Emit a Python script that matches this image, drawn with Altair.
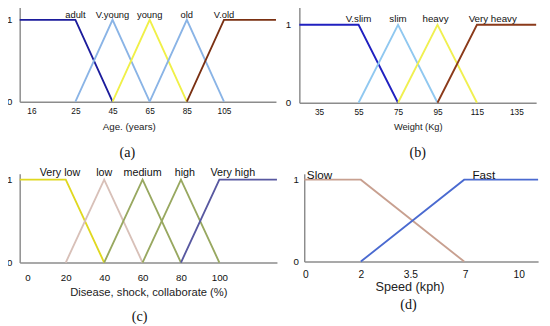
import altair as alt
import pandas as pd

# ---------- Panel (a): Age ----------
age_names = ["adult", "V.young", "young", "old", "V.old"]
age_colors = ["#1c1c9c", "#8ab4e6", "#f0f048", "#8ab4e6", "#7a3012"]
age_x = [[-5, 25, 45], [25, 45, 65], [45, 65, 85], [65, 85, 105], [85, 105, 133]]
age_y = [[1, 1, 0], [0, 1, 0], [0, 1, 0], [0, 1, 0], [0, 1, 1]]
age_label_x = [25, 45, 65, 85, 105]
age_tick_pos = [1.3, 25, 45, 65, 85, 105]
age_tick_text = ["16", "25", "45", "65", "85", "105"]

# ---------- Panel (b): Weight ----------
weight_names = ["V.slim", "slim", "heavy", "Very heavy"]
weight_colors = ["#2020c0", "#90c8f0", "#f0f050", "#8b3a1a"]
weight_x = [[25, 55, 75], [55, 75, 95], [75, 95, 115], [95, 115, 145]]
weight_y = [[1, 1, 0], [0, 1, 0], [0, 1, 0], [0, 1, 1]]
weight_label_x = [55, 75, 94, 123]
weight_tick_pos = [35, 55, 75, 95, 115, 135]
weight_tick_text = ["35", "55", "75", "95", "115", "135"]

# ---------- Panel (c): Disease, shock, collaborate ----------
dis_names = ["Very low", "low", "medium", "high", "Very high"]
dis_colors = ["#e0d820", "#d8c0b8", "#98a860", "#98a860", "#5858a0"]
dis_x = [[-4, 20, 40], [20, 40, 60], [40, 60, 80], [60, 80, 100], [80, 100, 130]]
dis_y = [[1, 1, 0], [0, 1, 0], [0, 1, 0], [0, 1, 0], [0, 1, 1]]
dis_label_x = [17, 40, 60, 82, 107]
dis_tick_pos = [0, 20, 40, 60, 80, 100]
dis_tick_text = ["0", "20", "40", "60", "80", "100"]

# ---------- Panel (d): Speed ----------
speed_names = ["Slow", "Fast"]
speed_colors = ["#c8a090", "#4a6ad0"]
speed_x = [[-0.74, 2, 7], [2, 7, 10.58]]
speed_y = [[1, 1, 0], [0, 1, 1]]
speed_label_x = [0.0, 7.95]
speed_tick_pos = [-0.69, 2, 4.4, 7.05, 9.64]
speed_tick_text = ["0", "2", "3.5", "7", "10"]


def panel(names, colors, xs, ys, label_x, tick_pos, tick_text, xdomain, ytop,
          width, height, xtitle, caption, caption_dx=0, caption_offset=6,
          title_x=None, label_dy=-5, ylabel_pad=8, label_size=11, tick_size=10,
          title_size=11.5, xlabel_pad=6, xtitle_pad=4):
    rows = []
    for n, xl, yl in zip(names, xs, ys):
        for i, (x, y) in enumerate(zip(xl, yl)):
            rows.append({"name": n, "i": i, "x": x, "y": y})
    df = pd.DataFrame(rows)
    lab = pd.DataFrame({"name": names, "x": label_x, "y": [1] * len(names)})

    parts = [f"abs(datum.value - ({p})) < 1e-6 ? '{t}'" for p, t in zip(tick_pos, tick_text)]
    expr = " : ".join(parts) + " : ''"
    xaxis = dict(values=tick_pos, labelExpr=expr, title=xtitle, grid=False,
                 ticks=False, labelPadding=xlabel_pad, titlePadding=xtitle_pad,
                 labelFontSize=tick_size, titleFontSize=title_size)
    if title_x is not None:
        xaxis["titleX"] = title_x

    xenc = alt.X("x:Q", scale=alt.Scale(domain=xdomain, nice=False, zero=False),
                 axis=alt.Axis(**xaxis))
    yenc = alt.Y("y:Q", scale=alt.Scale(domain=[0, ytop], nice=False, zero=True),
                 axis=alt.Axis(values=[0, 1], title=None, ticks=False, grid=False,
                               labelPadding=ylabel_pad, format="d", labelFontSize=10))

    lines = alt.Chart(df).mark_line(strokeWidth=1.9).encode(
        x=xenc, y=yenc,
        color=alt.Color("name:N", scale=alt.Scale(domain=names, range=colors), legend=None),
        detail="name:N",
        order="i:Q",
    )
    texts = alt.Chart(lab).mark_text(
        baseline="middle", dy=label_dy, fontSize=label_size, font="Liberation Sans", color="#111"
    ).encode(x="x:Q", y="y:Q", text="name:N")

    return alt.layer(lines, texts).properties(
        width=width, height=height,
        title=alt.TitleParams(caption, orient="bottom", font="Liberation Serif",
                              fontSize=14.5, fontWeight="normal", color="#111",
                              dx=caption_dx, offset=caption_offset),
    ).resolve_scale(color="independent")


pa = panel(age_names, age_colors, age_x, age_y, age_label_x, age_tick_pos, age_tick_text,
           [-5, 133], 1.214, 263, 102, "Age. (years)", "(a)", caption_dx=-21,
           caption_offset=15, title_x=112, label_dy=-5, ylabel_pad=8, label_size=9.6,
           tick_size=8.5, title_size=10, xlabel_pad=5, xtitle_pad=7.5)
pb = panel(weight_names, weight_colors, weight_x, weight_y, weight_label_x, weight_tick_pos,
           weight_tick_text, [25, 145], 1.2875, 243, 103, "Weight (Kg)", "(b)",
           caption_offset=16, label_dy=-6, ylabel_pad=9, label_size=10, tick_size=8.5,
           title_size=9.5, xlabel_pad=5, xtitle_pad=6)
pc = panel(dis_names, dis_colors, dis_x, dis_y, dis_label_x, dis_tick_pos, dis_tick_text,
           [-4, 130], 1.07, 264, 91, "Disease, shock, collaborate (%)", "(c)", caption_dx=-9,
           caption_offset=13, label_dy=-7, ylabel_pad=8, label_size=11, tick_size=10,
           title_size=11.5, xlabel_pad=10.5, xtitle_pad=4)
pd_ = panel(speed_names, speed_colors, speed_x, speed_y, speed_label_x, speed_tick_pos,
            speed_tick_text, [-0.74, 10.58], 1.071, 240, 90, "Speed (kph)", "(d)",
            caption_dx=-13, caption_offset=5, title_x=108, label_dy=-5, ylabel_pad=6,
            label_size=12, tick_size=10.5, title_size=13, xlabel_pad=8.5, xtitle_pad=1)

row1 = alt.hconcat(pa, pb, spacing=5).resolve_scale(color="independent", x="independent", y="independent")
row2 = alt.hconcat(pc, pd_, spacing=12).resolve_scale(color="independent", x="independent", y="independent")

chart = alt.vconcat(row1, row2, spacing=6).resolve_scale(
    color="independent", x="independent", y="independent"
).configure_view(stroke=None).configure_axis(
    domainColor="#8c8c8c", domainWidth=1.5, labelFont="Liberation Sans",
    labelColor="#111", titleFont="Liberation Sans",
    titleFontWeight="normal", titleColor="#222"
).properties(padding={"left": -2, "top": -10, "right": 0, "bottom": 0}, background="white")

chart.save("out.html", embed_options={"renderer": "svg", "actions": False})
